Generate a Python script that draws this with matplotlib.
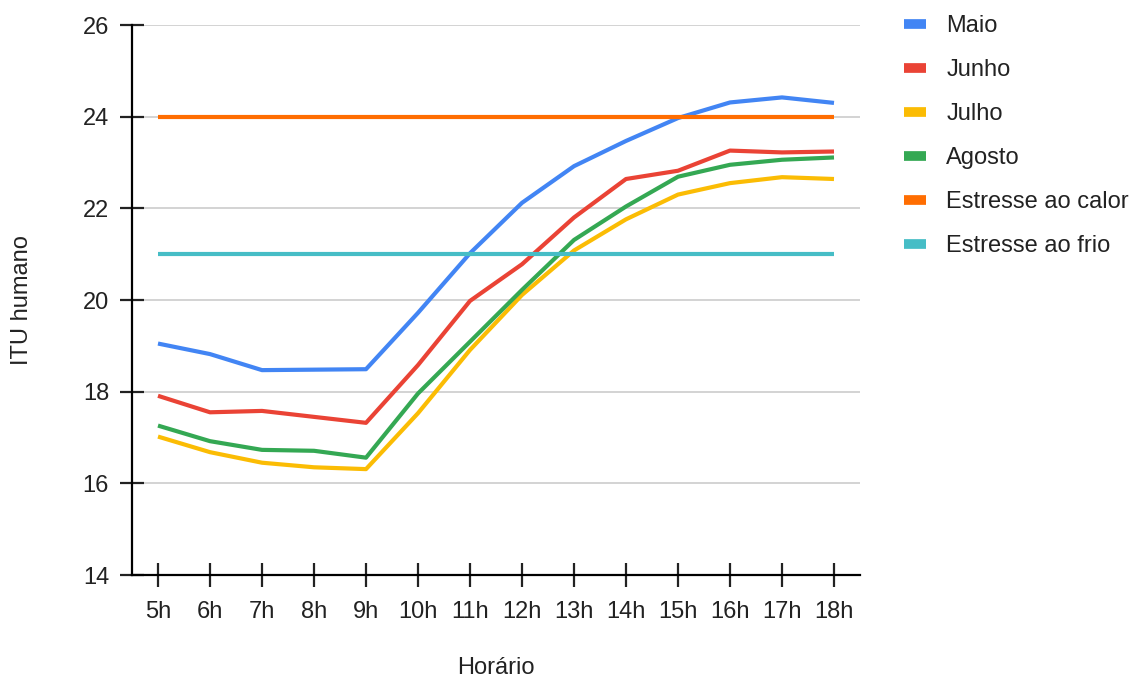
import matplotlib
matplotlib.use("Agg")
import matplotlib.pyplot as plt
from matplotlib.lines import Line2D

plt.rcParams['font.family'] = ['Liberation Sans', 'DejaVu Sans']

horas = ["5h", "6h", "7h", "8h", "9h", "10h", "11h", "12h", "13h", "14h", "15h", "16h", "17h", "18h"]
maio = [19.05, 18.82, 18.47, 18.48, 18.49, 19.72, 21.02, 22.12, 22.92, 23.47, 23.97, 24.31, 24.42, 24.30]
junho = [17.91, 17.55, 17.58, 17.45, 17.32, 18.58, 19.98, 20.78, 21.80, 22.64, 22.82, 23.26, 23.22, 23.24]
julho = [17.02, 16.68, 16.45, 16.35, 16.31, 17.53, 18.91, 20.11, 21.08, 21.76, 22.30, 22.55, 22.68, 22.64]
agosto = [17.26, 16.92, 16.73, 16.71, 16.56, 17.96, 19.09, 20.22, 21.31, 22.04, 22.69, 22.95, 23.06, 23.11]
calor = [24.0] * len(horas)
frio = [21.0] * len(horas)

series = [
    ("Maio", maio, "#4285F4"),
    ("Junho", junho, "#EA4335"),
    ("Julho", julho, "#FBBC04"),
    ("Agosto", agosto, "#34A853"),
    ("Estresse ao calor", calor, "#FF6D01"),
    ("Estresse ao frio", frio, "#46BDC6"),
]

fs = 17

fig = plt.figure(figsize=(11.36, 6.81), dpi=100)
ax = fig.add_axes([132 / 1136, 1 - 575 / 681, 728 / 1136, 550 / 681])

x = range(len(horas))
for nome, vals, cor in series:
    ax.plot(x, vals, color=cor, linewidth=3, solid_capstyle='butt', label=nome)

ax.set_xlim(-0.5, len(horas) - 0.5)
ax.set_ylim(14, 26)
ax.set_yticks([14, 16, 18, 20, 22, 24, 26])
ax.set_xticks(list(x))
ax.set_xticklabels(horas)

ax.grid(axis='y', color='#cccccc', linewidth=1.2)
ax.set_axisbelow(True)
for s in ['top', 'right']:
    ax.spines[s].set_visible(False)
for s in ['left', 'bottom']:
    ax.spines[s].set_linewidth(1.6)
    ax.spines[s].set_color('black')
ax.tick_params(direction='inout', length=17, width=1.6, labelsize=fs, colors='#222222', pad=8)
ax.tick_params(axis='x', pad=10)

ax.set_ylabel("ITU humano", fontsize=fs, color='#222222', labelpad=36)
ax.set_xlabel("Horário", fontsize=fs, color='#222222', labelpad=25)

handles = [Line2D([0], [0], color=c, linewidth=7, solid_capstyle='butt') for _, _, c in series]
fig.legend(handles, [n for n, _, _ in series], loc='upper left',
           bbox_to_anchor=(883 / 1136, 1 + 6 / 681), frameon=False, fontsize=fs,
           handlelength=0.93, handletextpad=0.85, labelspacing=0.93, labelcolor='#222222')

fig.savefig("out.png", dpi=100)
